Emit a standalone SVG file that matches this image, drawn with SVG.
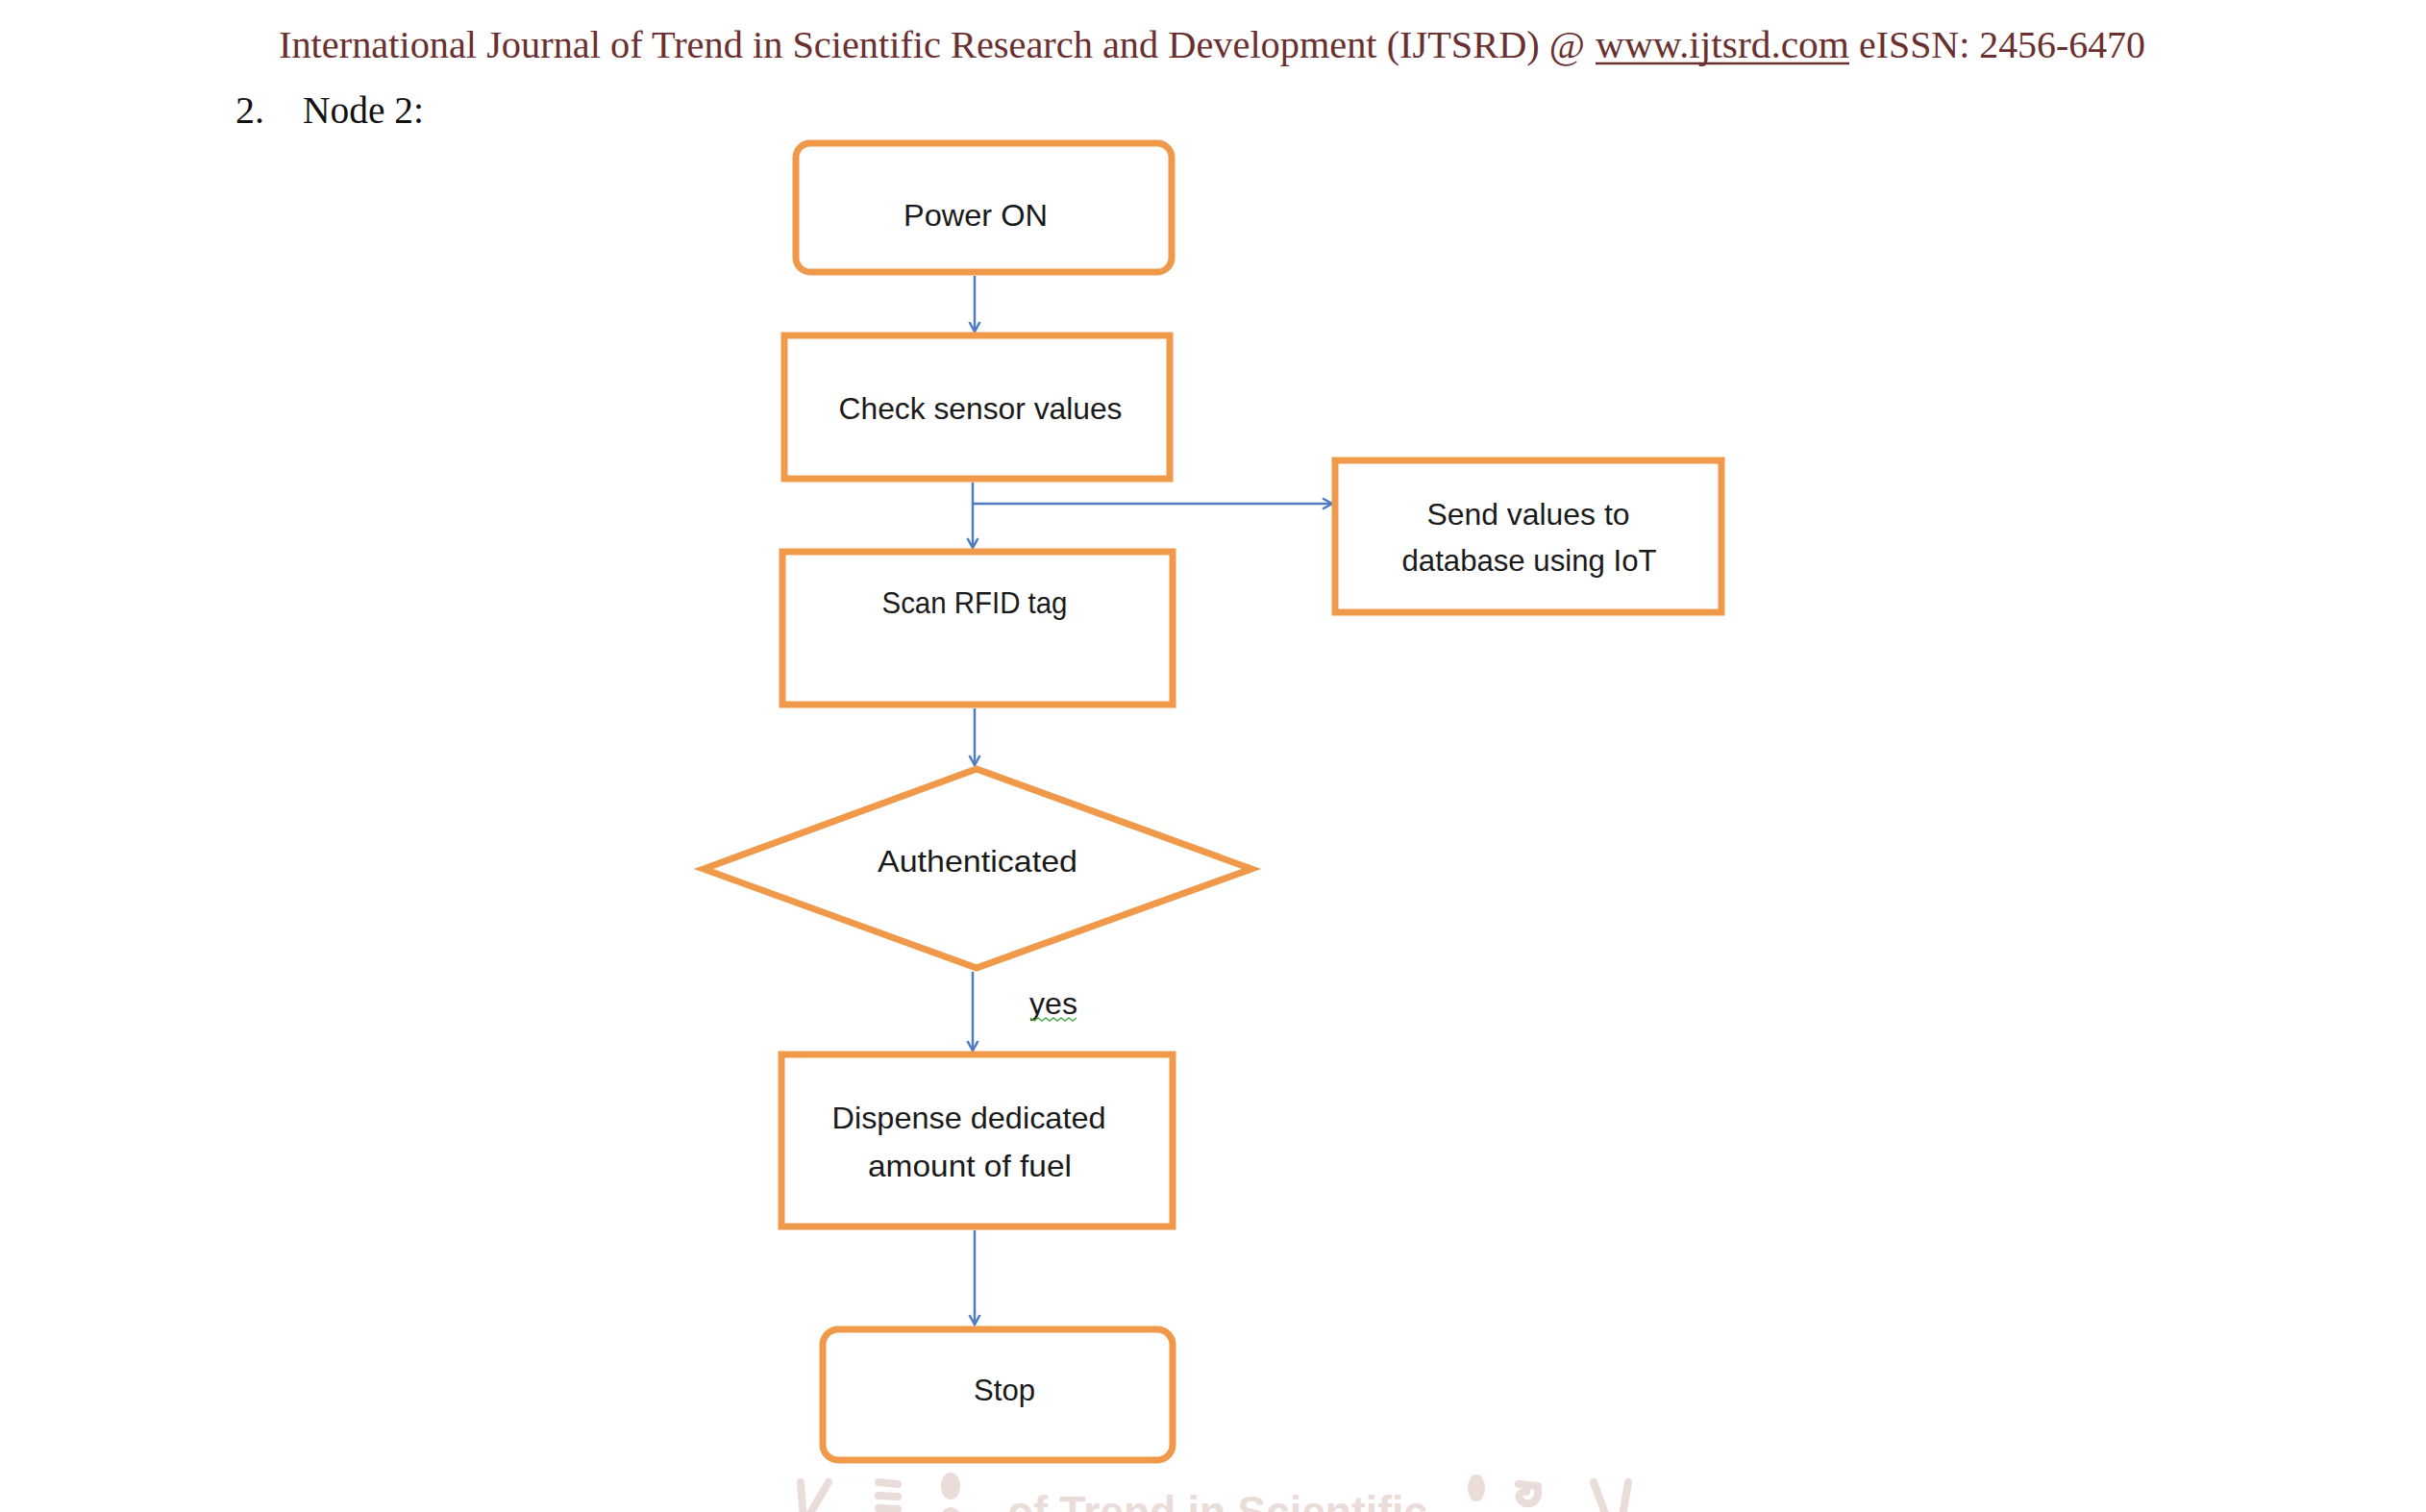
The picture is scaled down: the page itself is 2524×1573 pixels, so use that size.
<svg xmlns="http://www.w3.org/2000/svg" width="2524" height="1573" viewBox="0 0 2524 1573">
<style>
.hdr{font-family:"Liberation Serif","DejaVu Serif",serif;font-size:40px;fill:#6a2f2f}
.sec{font-family:"Liberation Serif","DejaVu Serif",serif;font-size:40px;fill:#111}
.box{fill:#fff;stroke:#F0994A;stroke-width:7}
.lbl{font-family:"Liberation Sans",Arial,sans-serif;font-size:31.5px;fill:#1a1a1a;text-anchor:middle}
.con{stroke:#4F7CC0;stroke-width:2.5;fill:none}
.wm{font-family:"Liberation Sans",Arial,sans-serif;fill:#eadcd8}
.wml{fill:none;stroke:#eadcd8;stroke-width:8;stroke-linecap:round}
</style>
<defs>
<marker id="arr" markerUnits="userSpaceOnUse" markerWidth="14" markerHeight="14" refX="11" refY="7" orient="auto">
<path d="M1,1.5 L11,7 L1,12.5" fill="none" stroke="#4F7CC0" stroke-width="2.5"/>
</marker>
</defs>
<rect width="2524" height="1573" fill="#fff"/>
<g id="header">
<text class="hdr" x="290" y="60" textLength="1359" lengthAdjust="spacingAndGlyphs">International Journal of Trend in Scientific Research and Development (IJTSRD) @</text>
<text class="hdr" x="1660" y="60" textLength="264" lengthAdjust="spacingAndGlyphs">www.ijtsrd.com</text>
<line x1="1660" y1="66" x2="1924" y2="66" stroke="#6a2f2f" stroke-width="2.5"/>
<text class="hdr" x="1934" y="60" textLength="298" lengthAdjust="spacingAndGlyphs">eISSN: 2456-6470</text>
</g>
<g id="section">
<text class="sec" x="245" y="128">2.</text>
<text class="sec" x="315" y="128" textLength="126" lengthAdjust="spacingAndGlyphs">Node 2:</text>
</g>
<g id="connectors">
<line class="con" x1="1014" y1="287" x2="1014" y2="345" marker-end="url(#arr)"/>
<line class="con" x1="1012" y1="502" x2="1012" y2="570" marker-end="url(#arr)"/>
<line class="con" x1="1012" y1="524" x2="1386" y2="524" marker-end="url(#arr)"/>
<line class="con" x1="1014" y1="737" x2="1014" y2="796" marker-end="url(#arr)"/>
<line class="con" x1="1012" y1="1011" x2="1012" y2="1093" marker-end="url(#arr)"/>
<line class="con" x1="1014" y1="1280" x2="1014" y2="1378" marker-end="url(#arr)"/>
</g>
<g id="power-on">
<rect class="box" x="828" y="149" width="391" height="134" rx="15"/>
<text class="lbl" x="1015" y="235" textLength="150" lengthAdjust="spacingAndGlyphs">Power ON</text>
</g>
<g id="check-sensor">
<rect class="box" x="816" y="349" width="401" height="149"/>
<text class="lbl" x="1020" y="436" textLength="295" lengthAdjust="spacingAndGlyphs">Check sensor values</text>
</g>
<g id="send-values">
<rect class="box" x="1389" y="479" width="402" height="158"/>
<text class="lbl" x="1590" y="546" textLength="211" lengthAdjust="spacingAndGlyphs">Send values to</text>
<text class="lbl" x="1591" y="594" textLength="265" lengthAdjust="spacingAndGlyphs">database using IoT</text>
</g>
<g id="scan-rfid">
<rect class="box" x="814" y="574" width="406" height="159"/>
<text class="lbl" x="1014" y="638" textLength="193" lengthAdjust="spacingAndGlyphs">Scan RFID tag</text>
</g>
<g id="authenticated">
<polygon class="box" points="732,904 1016,800 1302,904 1016,1007"/>
<text class="lbl" x="1017" y="907" textLength="208" lengthAdjust="spacingAndGlyphs">Authenticated</text>
</g>
<g id="yes-label">
<text class="lbl" x="1096" y="1055" textLength="50" lengthAdjust="spacingAndGlyphs">yes</text>
<polyline points="1072,1059 1076,1062 1080,1059 1084,1062 1088,1059 1092,1062 1096,1059 1100,1062 1104,1059 1108,1062 1112,1059 1116,1062 1120,1059" fill="none" stroke="#4caf50" stroke-width="1.5"/>
</g>
<g id="dispense">
<rect class="box" x="813" y="1097" width="407" height="179"/>
<text class="lbl" x="1008" y="1174" textLength="285" lengthAdjust="spacingAndGlyphs">Dispense dedicated</text>
<text class="lbl" x="1009" y="1224" textLength="212" lengthAdjust="spacingAndGlyphs">amount of fuel</text>
</g>
<g id="stop">
<rect class="box" x="856" y="1383" width="364" height="136" rx="16"/>
<text class="lbl" x="1045" y="1457" textLength="64" lengthAdjust="spacingAndGlyphs">Stop</text>
</g>
<g id="watermark">
<text class="wm" x="1048" y="1589" font-size="46" font-weight="bold" textLength="437" lengthAdjust="spacingAndGlyphs">of Trend in Scientific</text>
<path class="wml" d="M833,1542 L836,1580 M862,1542 L842,1576"/>
<path class="wml" d="M914,1542 L934,1544 M914,1556 L934,1557 M914,1569 L934,1570"/>
<ellipse cx="989" cy="1546" rx="10" ry="14" fill="#eadcd8"/>
<ellipse cx="989" cy="1578" rx="10" ry="10" fill="#eadcd8"/>
<ellipse cx="1536" cy="1548" rx="9" ry="14" fill="#eadcd8"/>
<path class="wml" d="M1580,1544 L1600,1546 M1598,1546 C1604,1556 1596,1566 1588,1564 C1578,1562 1578,1552 1588,1552"/>
<path class="wml" d="M1658,1542 L1672,1580 M1694,1542 L1688,1578"/>
</g>
</svg>
